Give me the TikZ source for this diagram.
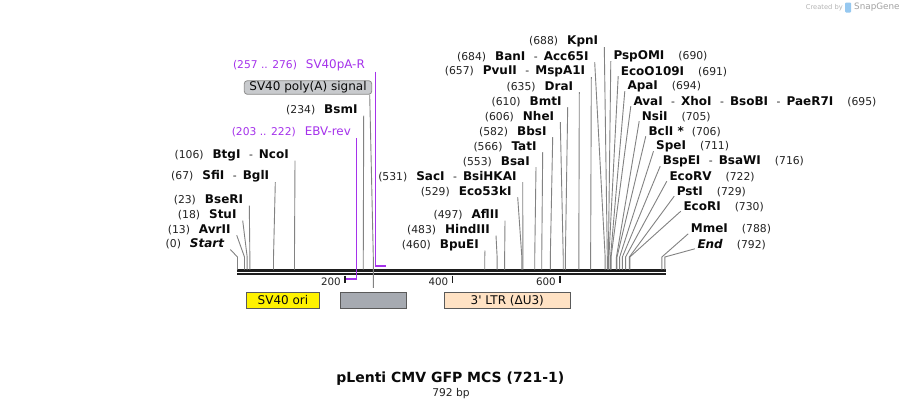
\documentclass[tikz,border=0pt]{standalone}
\usepackage{fontspec}
\setmainfont{DejaVu Sans}[Ligatures=TeXOff]
\definecolor{ink}{RGB}{10,10,10}
\definecolor{numc}{RGB}{35,35,35}
\definecolor{leadc}{RGB}{130,130,130}
\definecolor{prim}{RGB}{165,50,235}
\definecolor{bbc}{RGB}{30,30,30}
\definecolor{ltrc}{RGB}{255,226,196}
\definecolor{pagray}{RGB}{166,170,177}
\definecolor{palab}{RGB}{200,202,205}
\definecolor{palabedge}{RGB}{140,140,140}
\definecolor{edgec}{RGB}{90,90,90}
\definecolor{wmc}{RGB}{180,180,180}
\definecolor{logoc}{RGB}{150,200,240}
\newcommand\nm[1]{{\color{ink}\fontsize{12}{13}\selectfont\bfseries #1}}
\newcommand\nmi[1]{{\color{ink}\fontsize{12}{13}\selectfont\bfseries\itshape #1}}
\newcommand\sepr{\hspace{8.5pt}-\hspace{6pt}}
\newcommand\Lsite[5]{%
  \node[lab,anchor=east] (L#1) at (#2,#3) {#5};
  \coordinate (S#1) at ({237.5+0.5375*#4},269.5);
  \draw[lead] ([xshift=6pt,yshift=-5.5pt]L#1.east) -- ([yshift=12.5pt]S#1) -- (S#1);
}
\newcommand\Rsite[5]{%
  \node[lab,anchor=west] (R#1) at (#2,#3) {#5};
  \coordinate (S#1) at ({237.5+0.5375*#4},269.5);
  \draw[lead] ([xshift=-2.5pt,yshift=-4.5pt]R#1.west) -- ([yshift=12.5pt]S#1) -- (S#1);
}
\tikzset{
  lab/.style={inner sep=0pt, text=numc, font=\fontsize{10.8}{12}\selectfont},
  plab/.style={inner sep=0pt, text=prim, font=\fontsize{10.7}{12}\selectfont},
  lead/.style={draw=leadc, line width=0.9pt},
  pv/.style={draw=prim, line width=1.2pt},
  ph/.style={draw=prim, line width=2pt},
  feat/.style={draw=edgec, line width=0.8pt, minimum height=16pt, inner sep=0pt, text=ink, font=\fontsize{12}{13}\selectfont},
  tick/.style={draw=bbc, line width=1.6pt},
  ticklab/.style={inner sep=0pt, text=numc, font=\fontsize{10.3}{12}\selectfont}
}
\begin{document}
\begin{tikzpicture}[x=1pt,y=-1pt]
\useasboundingbox (0,0) rectangle (903,408);
\fill[white] (0,0) rectangle (903,408);

% watermark
\node[anchor=east, inner sep=0pt, text=wmc, font=\fontsize{6.7}{8}\selectfont] (wm1) at (843,7.5) {Created by};
\fill[logoc, rounded corners=1pt] (845,2.5) rectangle (851,12.5);
\node[anchor=west, inner sep=0pt, text=wmc!90!black, font=\fontsize{8.8}{10}\selectfont] (wm2) at (854,7.5) {SnapGene};

% backbone
\draw[bbc, line width=2.6pt] (237,270.3) -- (666,270.3);
\draw[bbc, line width=2.3pt] (237,274.2) -- (666,274.2);

% ticks
\foreach \t/\xx in {200/345,400/452.5,600/560}{
  \coordinate (T\t) at (\xx,275.5);
  \draw[tick] (T\t) -- ++(0,7);
  \node[ticklab, anchor=east] (TL\t) at (\xx-4,282) {\t};
}

% features
\node[feat, fill=yellow, minimum width=72.6pt] (fOri) at (283,300.3) {SV40 ori};
\node[feat, fill=pagray, minimum width=66pt] (fPA) at (373.3,300.3) {};
\node[feat, fill=ltrc, minimum width=126pt] (fLTR) at (507.3,300.3) {3' LTR (ΔU3)};

% SV40 poly(A) signal label
\node[draw=palabedge, fill=palab, rounded corners=3pt, line width=0.8pt, minimum width=127.4pt, minimum height=13.6pt, inner sep=0pt, text=ink, font=\fontsize{12}{13}\selectfont] (PA) at (308,87.5) {SV40 poly(A) signal};
\draw[lead] ([xshift=-2.4pt]PA.south east) -- ([yshift=35pt]fPA.north) -- ([yshift=4pt]fPA.north);

% primers
\node[plab, anchor=east] (pSV) at (365,65) {(257 .. 276)\hspace{9pt}{\fontsize{11.9}{13}\selectfont SV40pA-R}};
\coordinate (pSVt) at ({237.5+0.5375*257},71.7);
\coordinate (pSVa) at ({237.5+0.5375*257},265.7);
\coordinate (pSVb) at ({237.5+0.5375*276},265.7);
\draw[pv] (pSVt) -- (pSVa);
\draw[ph] ([xshift=-0.6pt]pSVa) -- (pSVb);

\node[plab, anchor=east] (pEBV) at (351,131.7) {(203 .. 222)\hspace{9pt}{\fontsize{11.9}{13}\selectfont EBV-rev}};
\coordinate (pEBVt) at ({237.5+0.5375*222},138);
\coordinate (pEBVa) at ({237.5+0.5375*222},278.7);
\coordinate (pEBVb) at ({237.5+0.5375*203-1},278.7);
\draw[pv] (pEBVt) -- (pEBVa);
\draw[ph] ([xshift=0.6pt]pEBVa) -- (pEBVb);

% left-side sites
\Lsite{Start}{224.3}{244}{0}{(0)\hspace{9pt}\nmi{Start}}
\Lsite{AvrII}{230.7}{229.7}{13}{(13)\hspace{9pt}\nm{AvrII}}
\Lsite{StuI}{236.7}{215}{18}{(18)\hspace{9pt}\nm{StuI}}
\Lsite{BseRI}{243.3}{200}{23}{(23)\hspace{9pt}\nm{BseRI}}
\Lsite{SfiI}{269.3}{176.7}{67}{(67)\hspace{9pt}\nm{SfiI}\sepr\nm{BglI}}
\Lsite{BtgI}{289}{155}{106}{(106)\hspace{9pt}\nm{BtgI}\sepr\nm{NcoI}}
\Lsite{BsmI}{357.7}{110}{234}{(234)\hspace{9pt}\nm{BsmI}}
\Lsite{BpuEI}{479}{245}{460}{(460)\hspace{9pt}\nm{BpuEI}}
\Lsite{HindIII}{490}{230}{483}{(483)\hspace{9pt}\nm{HindIII}}
\Lsite{AflII}{499}{215}{497}{(497)\hspace{9pt}\nm{AflII}}
\Lsite{Ecok}{511.7}{191.7}{529}{(529)\hspace{9pt}\nm{Eco53kI}}
\Lsite{SacI}{516.7}{176.7}{531}{(531)\hspace{9pt}\nm{SacI}\sepr\nm{BsiHKAI}}
\Lsite{BsaI}{530}{161.7}{553}{(553)\hspace{9pt}\nm{BsaI}}
\Lsite{TatI}{536.7}{146.7}{566}{(566)\hspace{9pt}\nm{TatI}}
\Lsite{BbsI}{546.7}{131.7}{582}{(582)\hspace{9pt}\nm{BbsI}}
\Lsite{NheI}{554.3}{116.7}{606}{(606)\hspace{9pt}\nm{NheI}}
\Lsite{BmtI}{561.7}{101.7}{610}{(610)\hspace{9pt}\nm{BmtI}}
\Lsite{DraI}{573.3}{86.7}{635}{(635)\hspace{9pt}\nm{DraI}}
\Lsite{PvuII}{585.3}{71.7}{657}{(657)\hspace{9pt}\nm{PvuII}\sepr\nm{MspA1I}}
\Lsite{BanI}{588.7}{56.7}{684}{(684)\hspace{9pt}\nm{BanI}\sepr\nm{Acc65I}}
\Lsite{KpnI}{598.3}{41.7}{688}{(688)\hspace{9pt}\nm{KpnI}}

% right-side sites
\Rsite{PspOMI}{613.3}{56.7}{690}{\nm{PspOMI}\hspace{14pt}(690)}
\Rsite{EcoO}{620.7}{71.7}{691}{\nm{EcoO109I}\hspace{14pt}(691)}
\Rsite{ApaI}{627.3}{86.7}{694}{\nm{ApaI}\hspace{14pt}(694)}
\Rsite{AvaI}{633.3}{101.7}{695}{\nm{AvaI}\sepr\nm{XhoI}\sepr\nm{BsoBI}\sepr\nm{PaeR7I}\hspace{14pt}(695)}
\Rsite{NsiI}{641.7}{116.7}{705}{\nm{NsiI}\hspace{14pt}(705)}
\Rsite{BclI}{648.3}{131.7}{706}{\nm{BclI *}\hspace{8pt}(706)}
\Rsite{SpeI}{656}{146.7}{711}{\nm{SpeI}\hspace{14pt}(711)}
\Rsite{BspEI}{662.7}{161.7}{716}{\nm{BspEI}\sepr\nm{BsaWI}\hspace{14pt}(716)}
\Rsite{EcoRV}{669.3}{176.7}{722}{\nm{EcoRV}\hspace{14pt}(722)}
\Rsite{PstI}{676.7}{191.7}{729}{\nm{PstI}\hspace{14pt}(729)}
\Rsite{EcoRI}{683.3}{206.7}{730}{\nm{EcoRI}\hspace{14pt}(730)}
\Rsite{MmeI}{690.7}{229.3}{789.5}{\nm{MmeI}\hspace{14pt}(788)}
\Rsite{End}{697.3}{244.3}{795}{\nmi{End}\hspace{14pt}(792)}

% title
\node[inner sep=0pt, text=ink, font=\fontsize{14}{16}\selectfont\bfseries] (title) at (450.3,378.3) {pLenti CMV GFP MCS (721-1)};
\node[inner sep=0pt, text=numc, font=\fontsize{10.7}{12}\selectfont] (bp) at (451,393.3) {792 bp};
\end{tikzpicture}
\end{document}
